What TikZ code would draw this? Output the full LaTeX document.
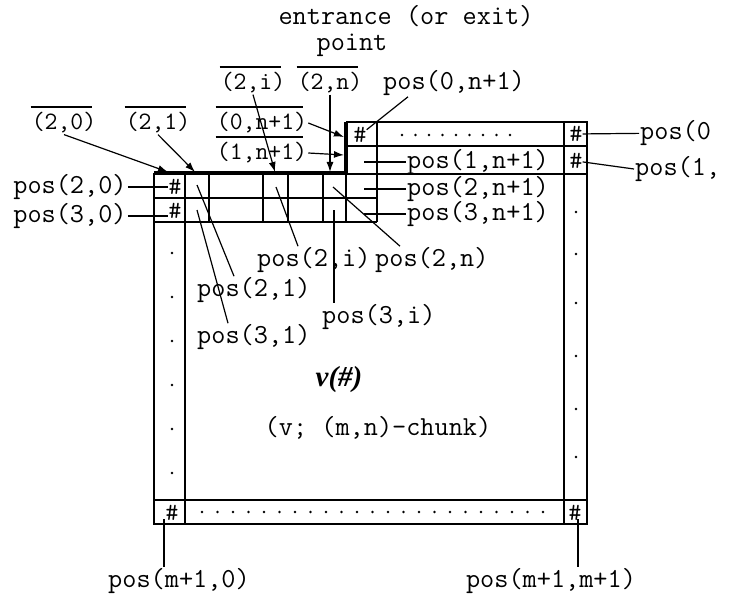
\documentclass[tikz,border=0pt]{standalone}
\usepackage{fontspec}
\newfontfamily\serifbi{Liberation Serif}
\usetikzlibrary{arrows.meta}

\begin{document}
\begin{tikzpicture}[x=1bp, y=-1bp, >={Latex[length=10bp,width=7bp]},
  font=\ttfamily\fontsize{27.5bp}{30bp}\selectfont,
  grid/.style={line width=1.2bp},
  edgeline/.style={line width=3.2bp},
  lead/.style={line width=1.2bp},
  lbl/.style={inner sep=1bp},
  hash/.style={inner sep=0bp, font=\ttfamily\fontsize{25bp}{26bp}\selectfont},
  bar/.style={inner sep=1bp, font=\ttfamily\fontsize{25bp}{28bp}\selectfont,
    append after command={([yshift=16bp]\tikzlastnode.west) edge[lead] ([yshift=16bp,xshift=-5bp]\tikzlastnode.east)}}]
				\useasboundingbox (0,0) rectangle (738,597);
				
				% chunk frame
				\draw[grid] (154,173) -- (154,524) -- (587,524) -- (587,122) -- (346,122);
				\draw[grid] (185,173) -- (185,524);
				\draw[grid] (564,122) -- (564,524);
				\draw[grid] (154,500) -- (587,500);
				\draw[grid] (346,146) -- (587,146);
				\draw[grid] (346,174) -- (587,174);
				\draw[grid] (154,198) -- (377,198);
				\draw[grid] (154,222) -- (377,222);
				\foreach \x in {209,263,288,323,346} \draw[grid] (\x,173) -- (\x,222);
				\draw[grid] (377,122) -- (377,222);
				\draw[edgeline] (154,173) -- (346,173) -- (346,122);
				
				\foreach \y in {253,297,341,385,429,473} \fill (172,\y) circle (1.4bp);
				\foreach \y in {212,254,303,356,409,457} \fill (576,\y) circle (1.4bp);
				\foreach \i in {0,...,22} \fill (202+15.5*\i,512) circle (1.4bp);
				\foreach \i in {0,...,8} \fill (402+13.5*\i,135) circle (1.4bp);
				
				\node[lbl] (entr) at (406,16) {entrance (or exit)};
				\node[lbl] (pnt) at (352,45) {point};
				
				\node[bar] (b2i) at (253,83) {(2,i)};
				\node[bar] (b2n) at (330,83) {(2,n)};
				\node[lbl, anchor=west] (p0n1) at (382,83) {pos(0,n+1)};
				\node[bar] (b20) at (64,123) {(2,0)};
				\node[bar] (b21) at (158,123) {(2,1)};
				\node[bar] (b0n1) at (262,123) {(0,n+1)};
				\node[bar] (b1n1) at (262,153) {(1,n+1)};
				
				\node[hash] (h20) at (175,187) {\#};
				\node[hash] (h30) at (175,211) {\#};
				\node[hash] (h0n) at (360,135) {\#};
				\node[hash] (h0r) at (576,134) {\#};
				\node[hash] (h1r) at (576,161) {\#};
				\node[hash] (hb0) at (172,513) {\#};
				\node[hash] (hbr) at (575,513) {\#};
				
				\node[lbl] (p20) at (70,187) {pos(2,0)};
				\node[lbl] (p30) at (70,216) {pos(3,0)};
				\node[lbl, anchor=west] (p1n1) at (406,162) {pos(1,n+1)};
				\node[lbl, anchor=west] (p2n1) at (406,189) {pos(2,n+1)};
				\node[lbl, anchor=west] (p3n1) at (406,214) {pos(3,n+1)};
				\node[lbl, anchor=west] (p0r) at (639,133) {pos(0};
				\node[lbl, anchor=west] (p1r) at (634,169) {pos(1,};
				\node[lbl, anchor=west] (p2i) at (256,260) {pos(2,i)};
				\node[lbl, anchor=west] (p2n) at (374,260) {pos(2,n)};
				\node[lbl, anchor=west] (p21) at (196,290) {pos(2,1)};
				\node[lbl, anchor=west] (p31) at (196,337) {pos(3,1)};
				\node[lbl, anchor=west] (p3i) at (321,317) {pos(3,i)};
				\node[font=\serifbi\bfseries\itshape\fontsize{29bp}{32bp}\selectfont] (vh) at (339,380) {v(\#)};
				\node (chunk) at (378,428) {(v; (m,n)-chunk)};
				\node[lbl] (pm10) at (179,581) {pos(m+1,0)};
				\node[lbl] (pm1m1) at (551,581) {pos(m+1,m+1)};
				
				\coordinate (a20) at (168,172);
				\coordinate (a21) at (195,172);
				\coordinate (a2i) at (275,172);
				\coordinate (a2n) at (330,172);
				\coordinate (a0n1) at (344,137);
				\coordinate (a1n1) at (344,155);
				\coordinate (c1n1) at (364,162);
				\coordinate (c2n1) at (364,189);
				\coordinate (c3n1) at (364,214);
				\coordinate (c21) at (197,185);
				\coordinate (c31) at (197,210);
				\coordinate (c2i) at (276,187);
				\coordinate (c2n) at (333,187);
				\coordinate (c3i) at (334,210);
				\coordinate (cb0) at (164,519);
				\coordinate (cbr) at (578,519);
				
				\draw[lead, ->] (b20.south) -- (a20);
				\draw[lead, ->] (b21.south) -- (a21);
				\draw[lead, ->] (b2i.south) -- (a2i);
				\draw[lead, ->] (b2n.south) -- (a2n);
				\draw[lead, ->] (b0n1.east) -- (a0n1);
				\draw[lead, ->] (b1n1.east) -- (a1n1);
				
				\draw[lead] (p20) -- (h20);
				\draw[lead] (p30.east) -- (p30.east -| h30.west);
				\draw[lead] (h0r) -- (p0r);
				\draw[lead] (h1r) -- (p1r.west);
				\draw[lead] (h0n) -- ([xshift=26bp]p0n1.south west);
				\draw[lead] (c1n1) -- (p1n1);
				\draw[lead] (c2n1) -- (p2n1);
				\draw[lead] (c3n1) -- (p3n1);
				\draw[lead] (c21) -- ([xshift=38bp]p21.north west);
				\draw[lead] (c31) -- ([xshift=32bp]p31.north west);
				\draw[lead] (c2i) -- ([xshift=42bp]p2i.north west);
				\draw[lead] (c2n) -- ([xshift=26bp]p2n.north west);
				\draw[lead] (c3i) -- (c3i |- p3i.north);
				\draw[lead] (cb0) -- (cb0 |- pm10.north);
				\draw[lead] (cbr) -- (cbr |- pm1m1.north);
			\end{tikzpicture}
\end{document}
